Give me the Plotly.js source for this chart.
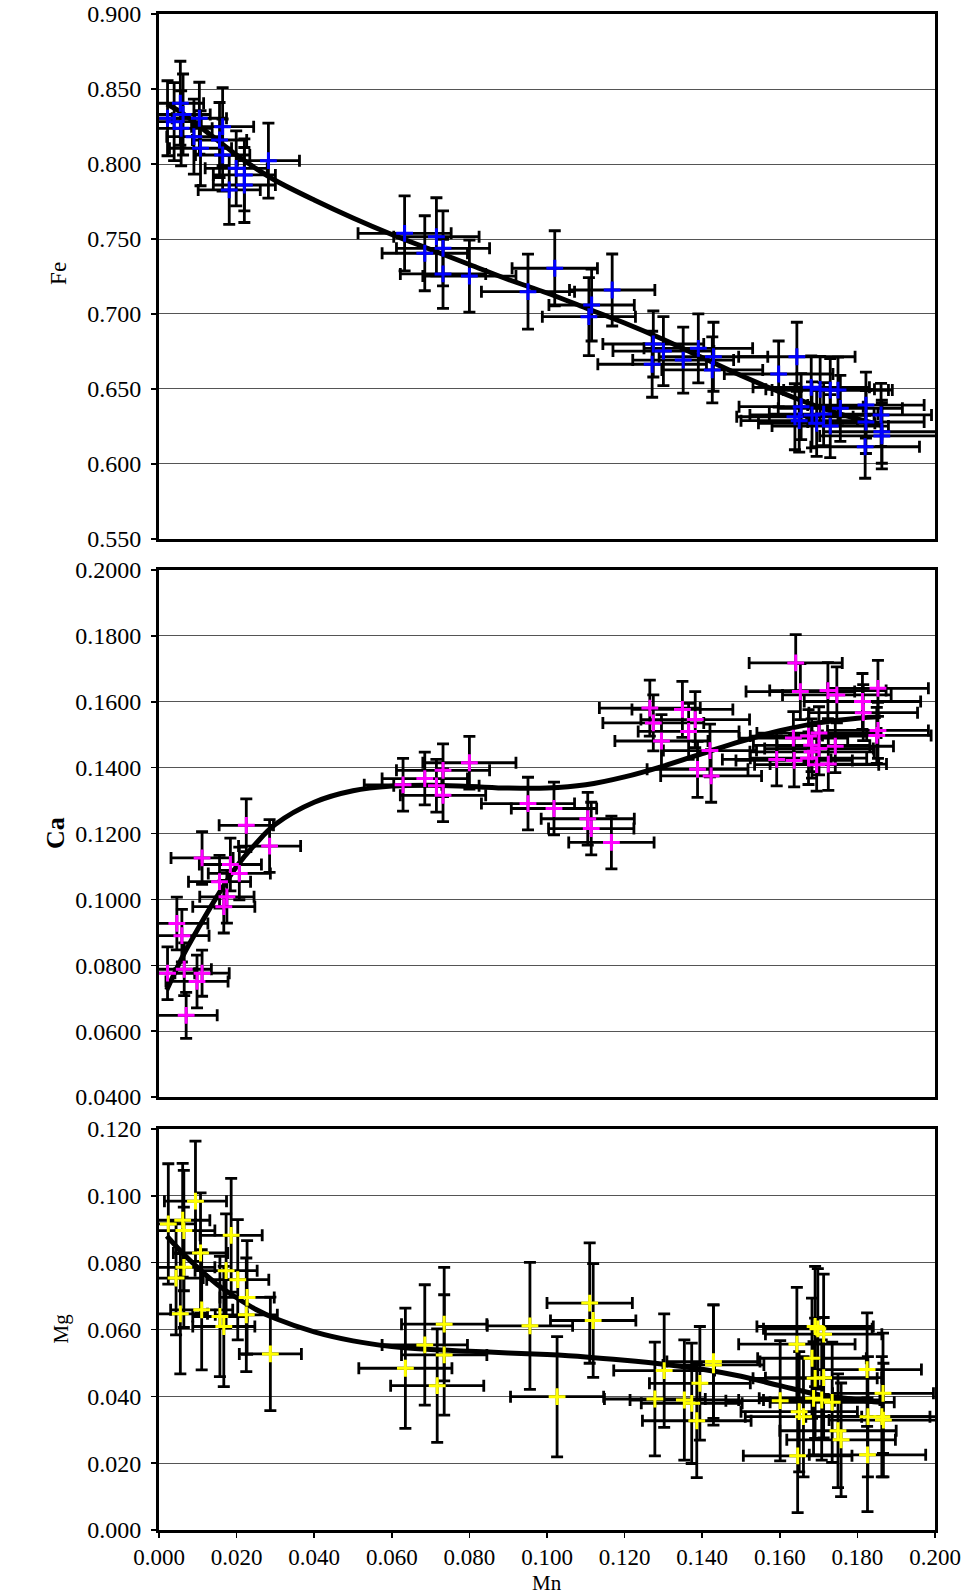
<!DOCTYPE html>
<html><head><meta charset="utf-8">
<script src="https://cdn.plot.ly/plotly-3.0.1.min.js"></script>
<style>html,body{margin:0;padding:0;background:#fff}#chart{width:966px;height:1596px}</style>
</head><body><div id="chart"></div><script>
// ---- Fe panel ----
const mnFe = [0.0022,0.0039,0.0055,0.0062,0.0057,0.0090,0.0104,0.0107,0.0156,0.0164,0.0164,0.0181,0.0199,0.0220,0.0220,0.0282,
  0.0633,0.0685,0.0715,0.0732,0.0732,0.0800,0.0951,0.1020,0.1108,0.1115,0.1168,
  0.1274,0.1300,0.1271,0.1351,0.1390,0.1429,0.1426,0.1597,0.1644,0.1681,0.1704,0.1730,0.1750,0.1655,0.1639,0.1650,0.1683,0.1695,0.1713,0.1730,0.1756,0.1822,0.1861,0.1863,0.1863,0.1820,0.1822];
const fe = [0.8305,0.8282,0.8405,0.8330,0.8238,0.8182,0.8305,0.8105,0.8160,0.8249,0.8060,0.7827,0.7971,0.7927,0.7860,0.8022,
  0.7538,0.7405,0.7515,0.7438,0.7267,0.7253,0.7149,0.7305,0.6982,0.7060,0.7160,
  0.6800,0.6753,0.6665,0.6693,0.6771,0.6715,0.6627,0.6600,0.6715,0.6511,0.6498,0.6493,0.6493,0.6382,0.6315,0.6289,0.6327,0.6271,0.6333,0.6253,0.6371,0.6393,0.6327,0.6215,0.6187,0.6115,0.6280];
const mnFeErr = [0.007,0.007,0.006,0.007,0.008,0.007,0.007,0.008,0.007,0.008,0.007,0.008,0.008,0.008,0.008,0.008,
  0.012,0.011,0.011,0.012,0.011,0.012,0.012,0.011,0.012,0.011,0.011,
  0.013,0.013,0.014,0.013,0.014,0.014,0.013,0.014,0.015,0.015,0.014,0.015,0.014,0.016,0.015,0.015,0.016,0.015,0.014,0.015,0.016,0.015,0.013,0.015,0.016,0.014,0.015];
const feErr = [0.025,0.026,0.028,0.027,0.025,0.025,0.024,0.025,0.025,0.026,0.024,0.023,0.025,0.024,0.025,0.025,
  0.025,0.025,0.026,0.025,0.023,0.024,0.025,0.025,0.026,0.024,0.024,
  0.022,0.023,0.022,0.022,0.023,0.023,0.022,0.022,0.023,0.021,0.022,0.021,0.022,0.022,0.022,0.021,0.022,0.022,0.021,0.021,0.022,0.022,0.021,0.021,0.022,0.021,0.021];

// ---- Ca panel ----
const mnCa = [0.0022,0.0046,0.0059,0.0065,0.0070,0.0098,0.0111,0.0111,0.0156,0.0167,0.0175,0.0184,0.0207,0.0225,0.0285,
  0.0629,0.0685,0.0715,0.0732,0.0732,0.0800,0.0951,0.1018,0.1105,0.1114,0.1166,
  0.1265,0.1274,0.1295,0.1349,0.1382,0.1365,0.1420,0.1388,0.1423,
  0.1641,0.1653,0.1724,0.1747,0.1853,0.1813,0.1815,0.1635,0.1674,0.1701,0.1682,0.1701,0.1743,0.1683,0.1592,0.1637,0.1674,0.1695,0.1725,0.1853,0.1850];
const ca = [0.0776,0.0927,0.0890,0.0788,0.0648,0.0751,0.0776,0.1126,0.1054,0.0978,0.1008,0.1106,0.1079,0.1225,0.1162,
  0.1348,0.1367,0.1345,0.1392,0.1316,0.1415,0.1291,0.1276,0.1245,0.1215,0.1173,
  0.1581,0.1536,0.1481,0.1577,0.1546,0.1510,0.1452,0.1395,0.1375,
  0.1718,0.1631,0.1634,0.1621,0.1641,0.1601,0.1567,0.1490,0.1496,0.1505,0.1468,0.1458,0.1465,0.1448,0.1425,0.1422,0.1429,0.1409,0.1411,0.1513,0.1498];
const mnCaErr = [0.007,0.008,0.007,0.007,0.008,0.008,0.007,0.008,0.008,0.008,0.007,0.008,0.008,0.007,0.008,
  0.010,0.011,0.011,0.012,0.011,0.012,0.012,0.011,0.012,0.011,0.011,
  0.013,0.013,0.012,0.013,0.014,0.013,0.012,0.013,0.013,
  0.012,0.014,0.015,0.014,0.013,0.015,0.014,0.014,0.015,0.016,0.015,0.014,0.015,0.016,0.014,0.015,0.015,0.016,0.015,0.013,0.014];
const caErr = [0.008,0.008,0.008,0.008,0.007,0.008,0.007,0.008,0.008,0.008,0.008,0.008,0.008,0.008,0.008,
  0.008,0.008,0.008,0.008,0.008,0.008,0.008,0.008,0.008,0.008,0.008,
  0.0085,0.0085,0.008,0.0085,0.0085,0.0085,0.008,0.0085,0.008,
  0.0086,0.0085,0.0085,0.0085,0.0085,0.0085,0.0085,0.008,0.008,0.008,0.008,0.008,0.008,0.008,0.008,0.008,0.008,0.008,0.008,0.0085,0.0085];

// ---- Mg panel ----
const mnMg = [0.0024,0.0061,0.0064,0.0094,0.0186,0.0107,0.0064,0.0044,0.0173,0.0203,0.0227,0.0055,0.0110,0.0157,0.0167,0.0225,0.0287,
  0.0635,0.0735,0.0735,0.0717,0.0685,0.0956,0.1026,0.1110,0.1119,
  0.1278,0.1302,0.1354,0.1373,0.1386,0.1394,0.1429,0.1429,
  0.1601,0.1644,0.1646,0.1650,0.1661,0.1683,0.1691,0.1698,0.1713,0.1691,0.1713,0.1687,0.1708,0.1735,0.1750,0.1758,0.1825,0.1827,0.1826,0.1866,0.1863,0.1867];
const mg = [0.0916,0.0927,0.0896,0.0984,0.0882,0.0829,0.0786,0.0754,0.0776,0.0749,0.0696,0.0647,0.0659,0.0639,0.0609,0.0644,0.0527,
  0.0484,0.0616,0.0524,0.0432,0.0554,0.0611,0.0399,0.0679,0.0627,
  0.0392,0.0477,0.0389,0.0379,0.0327,0.0439,0.0504,0.0494,
  0.0387,0.0556,0.0222,0.0354,0.0339,0.0514,0.0609,0.0602,0.0586,0.0454,0.0456,0.0394,0.0389,0.0382,0.0297,0.0270,0.0480,0.0339,0.0225,0.0409,0.0339,0.0329];
const mnMgErr = [0.007,0.007,0.008,0.008,0.008,0.007,0.008,0.007,0.008,0.008,0.007,0.007,0.008,0.007,0.008,0.008,0.008,
  0.012,0.011,0.011,0.012,0.011,0.011,0.012,0.011,0.011,
  0.013,0.013,0.014,0.013,0.014,0.013,0.012,0.013,
  0.014,0.015,0.014,0.015,0.015,0.014,0.015,0.014,0.015,0.016,0.015,0.014,0.015,0.016,0.015,0.014,0.014,0.016,0.015,0.013,0.015,0.014];
const mgErr = [0.018,0.017,0.018,0.018,0.017,0.018,0.018,0.017,0.017,0.018,0.017,0.018,0.018,0.018,0.018,0.017,0.017,
  0.018,0.017,0.018,0.017,0.018,0.019,0.018,0.018,0.017,
  0.017,0.017,0.018,0.018,0.017,0.017,0.017,0.018,
  0.018,0.017,0.017,0.018,0.018,0.018,0.018,0.018,0.018,0.018,0.018,0.017,0.018,0.018,0.017,0.017,0.017,0.018,0.017,0.018,0.018,0.017];

// ---- trend curves ----
const curveMn = [0.002,0.006,0.010,0.015,0.020,0.025,0.030,0.040,0.050,0.060,0.070,0.080,0.090,0.100,0.110,0.120,0.130,0.140,0.150,0.160,0.170,0.180,0.186];
const feCurve = [0.840,0.834,0.826,0.816,0.806,0.797,0.789,0.776,0.764,0.753,0.743,0.733,0.723,0.714,0.704,0.694,0.683,0.671,0.659,0.648,0.638,0.630,0.626];
const caCurve = [0.0725,0.0825,0.0910,0.1010,0.1100,0.1170,0.1228,0.1295,0.1330,0.1344,0.1347,0.1343,0.1338,0.1338,0.1348,0.1372,0.1405,0.1443,0.1480,0.1512,0.1536,0.1550,0.1555];
const mgCurve = [0.0880,0.0830,0.0785,0.0735,0.0695,0.0660,0.0633,0.0593,0.0566,0.0549,0.0540,0.0535,0.0530,0.0525,0.0518,0.0508,0.0496,0.0481,0.0460,0.0432,0.0405,0.0390,0.0382];

// axis titles
const titleFe = 'Fe', titleCa = '<b>Ca</b>', titleMg = 'Mg', titleMn = 'Mn';

const FONT = 'Liberation Serif';

function curve(y, xa, ya) {
  return {x: curveMn, y: y, xaxis: xa, yaxis: ya, type: 'scatter', mode: 'lines',
    line: {color: '#000', width: 5, shape: 'spline', smoothing: 1}, hoverinfo: 'skip'};
}
function pts(x, y, ex, ey, color, xa, ya) {
  return {x: x, y: y, xaxis: xa, yaxis: ya, type: 'scatter', mode: 'markers', cliponaxis: false,
    marker: {symbol: 'cross-thin', size: 12, color: color, line: {color: color, width: 3}},
    error_x: {type: 'data', array: ex, visible: true, color: '#000', thickness: 2.8, width: 6},
    error_y: {type: 'data', array: ey, visible: true, color: '#000', thickness: 2.8, width: 6}};
}

const data = [
  curve(feCurve, 'x', 'y'),
  pts(mnFe, fe, mnFeErr, feErr, '#0000FF', 'x', 'y'),
  curve(caCurve, 'x2', 'y2'),
  pts(mnCa, ca, mnCaErr, caErr, '#FF00FF', 'x2', 'y2'),
  curve(mgCurve, 'x3', 'y3'),
  pts(mnMg, mg, mnMgErr, mgErr, '#FFFF00', 'x3', 'y3')
];

const xBase = {range: [0, 0.2], showline: true, mirror: true, linecolor: '#000', linewidth: 3,
  showgrid: false, zeroline: false, fixedrange: true};
const yBase = {showline: true, mirror: true, linecolor: '#000', linewidth: 3, showgrid: true,
  gridcolor: '#555', gridwidth: 1, zeroline: false, ticks: 'outside', ticklen: 5, tickwidth: 1.5,
  tickcolor: '#000', ticklabelstandoff: 5, tickfont: {family: FONT, size: 24, color: '#000'}, fixedrange: true};

function ytitle(text, x, y, size) {
  return {text: text, xref: 'paper', yref: 'paper', x: x, y: y, xanchor: 'center', yanchor: 'middle',
    textangle: -90, showarrow: false, font: {family: FONT, size: size, color: '#000'}};
}

const layout = {
  width: 966, height: 1596,
  margin: {l: 159, r: 31, t: 14, b: 66},
  paper_bgcolor: '#fff', plot_bgcolor: '#fff',
  showlegend: false,
  font: {family: FONT, color: '#000'},
  xaxis: Object.assign({}, xBase, {anchor: 'y', ticks: '', showticklabels: false}),
  xaxis2: Object.assign({}, xBase, {anchor: 'y2', ticks: '', showticklabels: false}),
  xaxis3: Object.assign({}, xBase, {anchor: 'y3', ticks: 'outside', ticklen: 5, tickwidth: 1.5, tickcolor: '#000',
    dtick: 0.02, tick0: 0, tickformat: '.3f', ticklabelstandoff: -1,
    tickfont: {family: FONT, size: 23, color: '#000'}}),
  yaxis: Object.assign({}, yBase, {anchor: 'x', domain: [0.6537, 1], range: [0.55, 0.9], dtick: 0.05, tick0: 0.55,
    tickformat: '.3f'}),
  yaxis2: Object.assign({}, yBase, {anchor: 'x2', domain: [0.2856, 0.6332], range: [0.04, 0.2], dtick: 0.02, tick0: 0.04,
    tickformat: '.4f'}),
  yaxis3: Object.assign({}, yBase, {anchor: 'x3', domain: [0, 0.2645], range: [0, 0.12], dtick: 0.02, tick0: 0,
    tickformat: '.3f'}),
  annotations: [
    ytitle(titleFe, -0.1289, 0.8292, 23),
    ytitle(titleCa, -0.1327, 0.4598, 26),
    ytitle(titleMg, -0.1263, 0.1329, 21),
    {text: titleMn, xref: 'paper', yref: 'paper', x: 0.5, y: -0.0435, xanchor: 'center', yanchor: 'bottom',
      borderpad: 0, showarrow: false, font: {family: FONT, size: 21, color: '#000'}}
  ]
};

Plotly.newPlot('chart', data, layout, {staticPlot: true, displayModeBar: false});
</script></body></html>
